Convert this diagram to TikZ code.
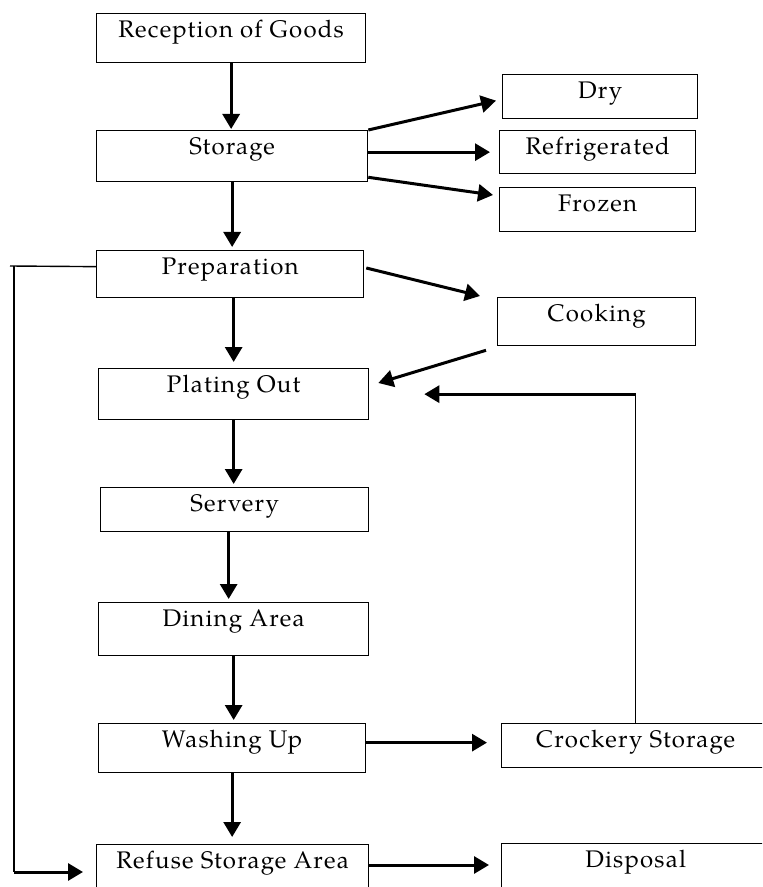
\documentclass[tikz,border=0pt]{standalone}
\usepackage{fontspec}
\setmainfont{texgyrepagella-regular.otf}[LetterSpace=5]
\usetikzlibrary{arrows.meta,calc}

\tikzset{
    box/.style={draw, line width=0.65pt, inner sep=0pt, anchor=north west,
        text height=12pt, font=\fontsize{12}{14}\selectfont},
    flow/.style={-{Triangle[length=7.5pt,width=8.5pt]}, line width=1.5pt},
    line/.style={line width=0.7pt}
}

\begin{document}
\begin{tikzpicture}[x=0.5pt,y=-0.5pt]
    \useasboundingbox (0,0) rectangle (762,887);
    \clip (0,0) rectangle (762,887);

    % main column
    \node (reception) at (96,13) [box,minimum width=134.5pt,text depth=12.5pt] {Reception of Goods};
    \node (storage) at (96,130) [box,minimum width=135.5pt,text depth=13.5pt] {Storage};
    \node (preparation) at (96,250) [box,minimum width=133.5pt,text depth=11.5pt] {Preparation};
    \node (plating) at (98,368) [box,minimum width=135pt,text depth=13.5pt] {Plating Out};
    \node (servery) at (100,487) [box,minimum width=134pt,text depth=10pt] {Servery};
    \node (dining) at (98,602) [box,minimum width=135pt,text depth=14.5pt] {Dining Area};
    \node (washing) at (98,723) [box,minimum width=133.5pt,text depth=12.5pt] {Washing Up};
    \node (refuse) at (96,844) [box,minimum width=136pt,text depth=20pt] {Refuse Storage Area};

    % side boxes
    \node (dry) at (502,74) [box,minimum width=97.5pt,text depth=10pt] {Dry};
    \node (fridge) at (499,130) [box,minimum width=98pt,text depth=9.5pt] {Refrigerated};
    \node (frozen) at (499,187) [box,minimum width=98pt,text depth=10pt] {Frozen};
    \node (cooking) at (497,297) [box,minimum width=99pt,text depth=12pt] {Cooking};
    \node (crockery) at (501,723) [box,minimum width=134pt,text depth=10pt] {Crockery Storage};
    \node (disposal) at (501,843) [box,minimum width=134pt,text depth=20pt] {Disposal};

    % down the column
    \draw[flow] (reception.south) -- ([yshift=0.5pt]reception.south |- storage.north);
    \draw[flow] (storage.south) -- ([yshift=1.5pt]storage.south |- preparation.north);
    \draw[flow] (plating.north |- preparation.south) -- ([yshift=3pt]plating.north);
    \draw[flow] (plating.south) -- ([yshift=1.5pt]plating.south |- servery.north);
    \draw[flow] ([xshift=-3pt]servery.south) -- ([xshift=-3pt,yshift=1.5pt]servery.south |- dining.north);
    \draw[flow] (dining.south) -- ([yshift=1.5pt]dining.south |- washing.north);
    \draw[flow] (washing.south) -- ([yshift=3.5pt]washing.south |- refuse.north);

    % storage branches
    \draw[flow] (storage.north east) -- ($(dry.west)+(-6,4)$);
    \draw[flow] (storage.east |- fridge.west) -- ([xshift=-4.5pt]fridge.west);
    \draw[flow] ($(storage.south east)+(0,-5)$) -- ($(frozen.north west)+(-6,8)$);

    % cooking
    \draw[flow] ($(preparation.north east)+(2,18)$) -- ($(cooking.north west)+(-17,-1)$);
    \draw[flow] ($(cooking.south west)+(-11,4)$) -- ($(plating.north east)+(9,15)$);

    % washing and refuse
    \draw[flow] ($(washing.east)+(0,-5.5)$) -- ($(washing.east -| crockery.west)+(-14,-5.5)$);
    \draw[flow] ($(refuse.north east)+(0,21)$) -- ($(refuse.north east -| disposal.west)+(-12,21)$);

    % crockery back to plating
    \coordinate (corner) at (crockery.north |- plating.east);
    \draw[line] (crockery.north) -- (corner);
    \draw[flow] (corner) -- ($(plating.east)+(55,0)$);

    % preparation waste to refuse
    \coordinate (loop top) at (14,266);
    \coordinate (loop bottom) at (14,872);
    \draw[line] ($(preparation.west)+(0,-7.5)$) -- ($(loop top)+(-4,0)$);
    \draw[line] (loop top) -- (loop bottom);
    \draw[flow] (loop bottom) -- ($(refuse.north west)+(-13,28)$);
\end{tikzpicture}
\end{document}
